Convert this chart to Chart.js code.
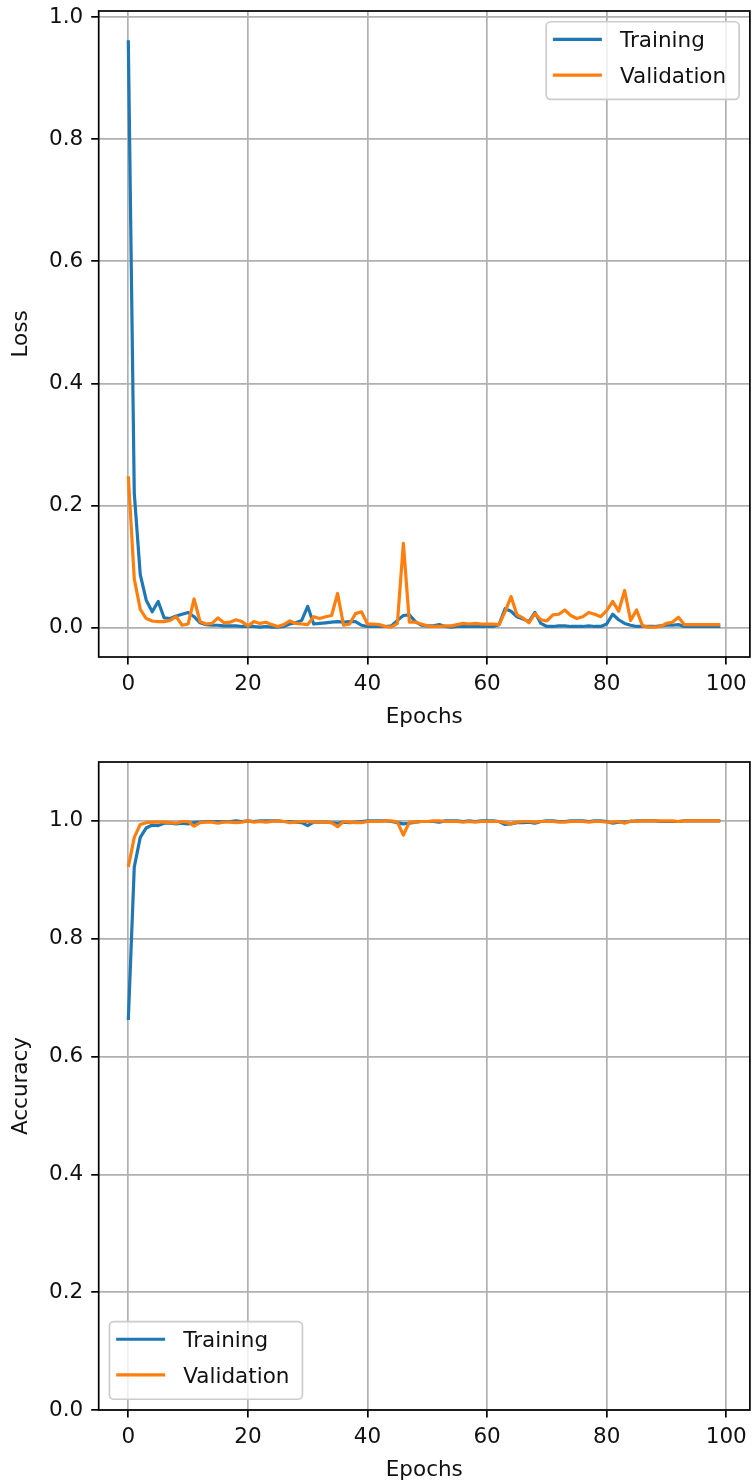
<!DOCTYPE html>
<html>
<head>
<meta charset="utf-8">
<title>Loss and accuracy</title>
<script src="https://cdn.jsdelivr.net/npm/chart.js@4.4.1/dist/chart.umd.min.js"></script>
<style>
  html, body { margin: 0; padding: 0; background: #fff; }
  #wrap { position: relative; width: 752px; height: 1484px; }
  canvas { position: absolute; left: 0; }
</style>
</head>
<body>
<div id="wrap">
  <canvas id="lossChart" width="752" height="740" style="top:0px"></canvas>
  <canvas id="accChart" width="752" height="744" style="top:740px"></canvas>
</div>
<script>
// epochs 0..99 (x positions)
var epochs = [];
for (var i = 0; i < 100; i++) epochs.push(i);

var xTicks = [0, 20, 40, 60, 80, 100];
var yTicks = [0, 0.2, 0.4, 0.6, 0.8, 1.0];
var seriesNames = ['Training', 'Validation'];

var trainLoss = [
  0.962, 0.220, 0.087, 0.045, 0.026, 0.043, 0.016, 0.015, 0.019, 0.022,
  0.025, 0.018, 0.008, 0.005, 0.004, 0.004, 0.003, 0.003, 0.003, 0.002,
  0.002, 0.002, 0.001, 0.002, 0.001, 0.001, 0.002, 0.006, 0.008, 0.012,
  0.035, 0.006, 0.007, 0.008, 0.009, 0.010, 0.009, 0.010, 0.010, 0.004,
  0.002, 0.002, 0.002, 0.002, 0.003, 0.012, 0.020, 0.021, 0.010, 0.004,
  0.003, 0.003, 0.005, 0.002, 0.001, 0.002, 0.002, 0.002, 0.002, 0.002,
  0.002, 0.002, 0.005, 0.031, 0.027, 0.018, 0.014, 0.010, 0.025, 0.007,
  0.002, 0.002, 0.003, 0.003, 0.002, 0.002, 0.002, 0.003, 0.002, 0.002,
  0.006, 0.022, 0.013, 0.007, 0.004, 0.002, 0.002, 0.002, 0.002, 0.003,
  0.004, 0.004, 0.005, 0.002, 0.002, 0.002, 0.002, 0.002, 0.002, 0.002
];

var valLoss = [
  0.248, 0.080, 0.030, 0.015, 0.011, 0.010, 0.010, 0.012, 0.018, 0.004,
  0.006, 0.047, 0.010, 0.006, 0.007, 0.016, 0.008, 0.009, 0.013, 0.010,
  0.003, 0.010, 0.007, 0.009, 0.005, 0.002, 0.005, 0.011, 0.007, 0.006,
  0.005, 0.018, 0.015, 0.018, 0.020, 0.056, 0.004, 0.006, 0.023, 0.026,
  0.006, 0.006, 0.005, 0.002, 0.001, 0.007, 0.138, 0.009, 0.009, 0.006,
  0.003, 0.002, 0.002, 0.003, 0.003, 0.005, 0.007, 0.006, 0.007, 0.006,
  0.006, 0.006, 0.005, 0.026, 0.051, 0.021, 0.016, 0.008, 0.023, 0.013,
  0.011, 0.021, 0.022, 0.029, 0.020, 0.015, 0.018, 0.025, 0.022, 0.018,
  0.028, 0.043, 0.027, 0.061, 0.012, 0.029, 0.003, 0.001, 0.001, 0.002,
  0.007, 0.009, 0.017, 0.005, 0.005, 0.005, 0.005, 0.005, 0.005, 0.005
];

var trainAcc = [
  0.662, 0.922, 0.972, 0.988, 0.993, 0.992, 0.996, 0.996, 0.995, 0.996,
  0.995, 0.997, 0.998, 0.999, 0.999, 0.999, 0.999, 0.999, 1.000, 0.999,
  1.000, 0.999, 1.000, 1.000, 1.000, 1.000, 0.999, 0.999, 0.998, 0.997,
  0.992, 0.998, 0.998, 0.998, 0.997, 0.996, 0.998, 0.997, 0.998, 0.999,
  1.000, 1.000, 1.000, 1.000, 0.999, 0.997, 0.995, 0.996, 0.998, 0.999,
  0.999, 0.999, 0.998, 1.000, 1.000, 1.000, 0.999, 1.000, 0.999, 1.000,
  1.000, 1.000, 0.999, 0.994, 0.995, 0.997, 0.997, 0.998, 0.996, 0.999,
  1.000, 1.000, 0.999, 0.999, 1.000, 1.000, 1.000, 0.999, 1.000, 1.000,
  0.999, 0.996, 0.998, 0.998, 0.999, 1.000, 1.000, 1.000, 1.000, 0.999,
  0.999, 0.999, 0.999, 1.000, 1.000, 1.000, 1.000, 1.000, 1.000, 1.000
];

var valAcc = [
  0.922, 0.972, 0.994, 0.997, 0.998, 0.998, 0.998, 0.997, 0.996, 0.999,
  0.999, 0.991, 0.997, 0.998, 0.998, 0.996, 0.998, 0.998, 0.997, 0.998,
  1.000, 0.998, 0.999, 0.998, 0.999, 1.000, 0.999, 0.997, 0.998, 0.999,
  0.999, 0.998, 0.998, 0.998, 0.997, 0.990, 0.999, 0.998, 0.997, 0.997,
  0.999, 0.999, 0.999, 1.000, 1.000, 0.998, 0.976, 0.998, 0.998, 0.999,
  0.999, 1.000, 1.000, 0.999, 0.999, 0.999, 0.998, 0.999, 0.998, 0.999,
  0.999, 0.999, 0.999, 0.997, 0.995, 0.998, 0.999, 0.999, 0.998, 0.999,
  0.999, 0.999, 0.998, 0.998, 0.999, 0.999, 0.999, 0.998, 0.999, 0.999,
  0.998, 0.998, 0.999, 0.996, 1.000, 0.999, 1.000, 1.000, 1.000, 1.000,
  1.000, 1.000, 0.999, 1.000, 1.000, 1.000, 1.000, 1.000, 1.000, 1.000
];

var BLUE = '#1f77b4';
var ORANGE = '#ff7f0e';
var GRID = '#b0b0b0';
var TEXT = '#111';
var FONT_SIZE = 21.5;

Chart.defaults.font.family = 'DejaVu Sans';
Chart.defaults.font.size = FONT_SIZE;
Chart.defaults.color = TEXT;

// black box round the plot area, drawn over the lines like matplotlib spines
var framePlugin = {
  id: 'frame',
  afterDatasetsDraw: function(chart) {
    var a = chart.chartArea, ctx = chart.ctx;
    ctx.save();
    ctx.strokeStyle = '#000';
    ctx.lineWidth = 1.7;
    ctx.strokeRect(a.left, a.top, a.right - a.left, a.bottom - a.top);
    ctx.restore();
  }
};

// legend box inside the axes
var boxLegendPlugin = {
  id: 'boxLegend',
  afterDraw: function(chart, args, opts) {
    var a = chart.chartArea, ctx = chart.ctx;
    var pad = 10.75, h = 77.6, r = 4.5;
    ctx.save();
    ctx.font = FONT_SIZE + 'px "DejaVu Sans"';
    var tw = 0;
    chart.data.datasets.forEach(function(ds) {
      tw = Math.max(tw, ctx.measureText(ds.label).width);
    });
    var w = 73.8 + tw + 13;
    var x = opts.corner === 'upper right' ? a.right - pad - w : a.left + pad;
    var y = opts.corner === 'upper right' ? a.top + pad : a.bottom - pad - h;

    ctx.beginPath();
    ctx.moveTo(x + r, y);
    ctx.arcTo(x + w, y, x + w, y + h, r);
    ctx.arcTo(x + w, y + h, x, y + h, r);
    ctx.arcTo(x, y + h, x, y, r);
    ctx.arcTo(x, y, x + w, y, r);
    ctx.closePath();
    ctx.fillStyle = 'rgba(255,255,255,0.8)';
    ctx.fill();
    ctx.strokeStyle = '#cccccc';
    ctx.lineWidth = 1.7;
    ctx.stroke();

    chart.data.datasets.forEach(function(ds, i) {
      var cy = y + 17.6 + i * 35.7;
      ctx.beginPath();
      ctx.lineCap = 'square';
      ctx.strokeStyle = ds.borderColor;
      ctx.lineWidth = 3.2;
      ctx.moveTo(x + 8.3, cy);
      ctx.lineTo(x + 54.1, cy);
      ctx.stroke();
      ctx.fillStyle = TEXT;
      ctx.textBaseline = 'alphabetic';
      ctx.textAlign = 'left';
      ctx.fillText(ds.label, x + 73.8, cy + 8);
    });
    ctx.restore();
  }
};

function makeChart(canvasId, s) {
  var ctx = document.getElementById(canvasId).getContext('2d');
  return new Chart(ctx, {
    type: 'line',
    data: {
      labels: epochs,
      datasets: [{
        label: seriesNames[0],
        data: s.train,
        borderColor: BLUE,
        backgroundColor: BLUE,
        borderWidth: 3.2,
        borderJoinStyle: 'round',
        pointRadius: 0,
        tension: 0,
        order: 1
      }, {
        label: seriesNames[1],
        data: s.val,
        borderColor: ORANGE,
        backgroundColor: ORANGE,
        borderWidth: 3.2,
        borderJoinStyle: 'round',
        pointRadius: 0,
        tension: 0,
        order: 0
      }]
    },
    options: {
      responsive: false,
      animation: false,
      events: [],
      layout: { padding: { top: s.padTop, right: 2.1, left: 0, bottom: 0 } },
      plugins: {
        legend: { display: false },
        tooltip: { enabled: false },
        boxLegend: { corner: s.corner }
      },
      scales: {
        x: {
          type: 'linear',
          min: -4.95,
          max: 103.95,
          afterBuildTicks: function(scale) {
            scale.ticks = xTicks.map(function(v) { return { value: v }; });
          },
          afterFit: function(scale) {
            scale.height = s.xHeight;
            scale.paddingLeft = 0;
            scale.paddingRight = 0;
          },
          grid: { color: GRID, lineWidth: 1.7, tickColor: '#000', tickWidth: 1.7, tickLength: 7.5 },
          border: { display: false },
          ticks: {
            padding: 7,
            autoSkip: false,
            maxRotation: 0,
            callback: function(v) { return String(v); }
          },
          title: {
            display: true,
            text: 'Epochs',
            padding: { top: 0, bottom: s.xTitlePad }
          }
        },
        y: {
          type: 'linear',
          min: s.yMin,
          max: s.yMax,
          afterBuildTicks: function(scale) {
            scale.ticks = yTicks.map(function(v) { return { value: v }; });
          },
          afterFit: function(scale) {
            scale.width = 98.7;
            scale.paddingTop = 0;
            scale.paddingBottom = 0;
          },
          grid: { color: GRID, lineWidth: 1.7, tickColor: '#000', tickWidth: 1.7, tickLength: 7.5 },
          border: { display: false },
          ticks: {
            padding: 8,
            autoSkip: false,
            callback: function(v) { return v.toFixed(1); }
          },
          title: {
            display: true,
            text: s.yTitle,
            padding: { top: 9, bottom: 0 }
          }
        }
      }
    },
    plugins: [framePlugin, boxLegendPlugin]
  });
}

window.onload = function() {
  window.lossChart = makeChart('lossChart', {
    train: trainLoss, val: valLoss, yTitle: 'Loss',
    yMin: -0.048, yMax: 1.010,
    padTop: 11, xHeight: 83, xTitlePad: 9.6,
    corner: 'upper right'
  });
  window.accChart = makeChart('accChart', {
    train: trainAcc, val: valAcc, yTitle: 'Accuracy',
    yMin: 0, yMax: 1.1,
    padTop: 22, xHeight: 74, xTitlePad: 0.6,
    corner: 'lower left'
  });
};
</script>
</body>
</html>
